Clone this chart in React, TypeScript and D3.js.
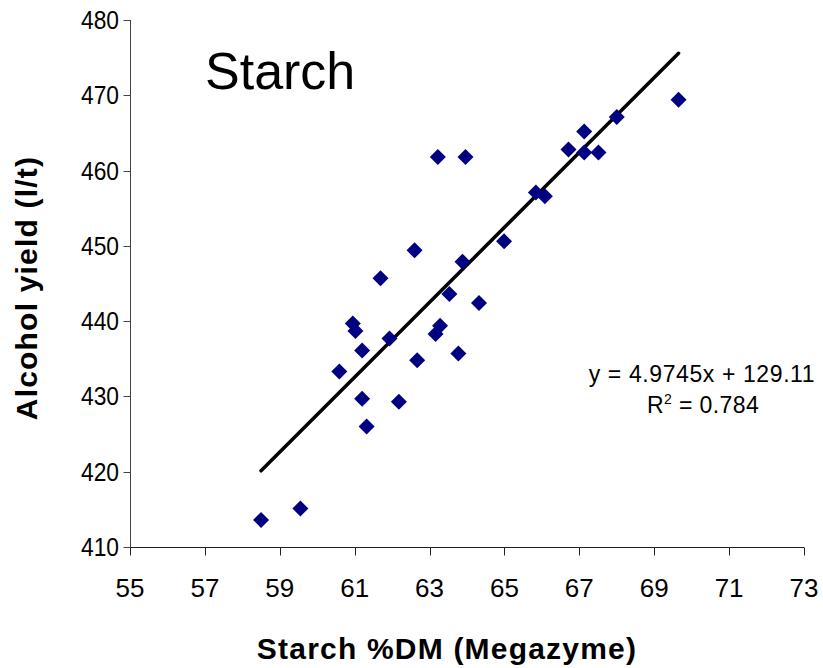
import React from 'react';
import * as d3 from 'd3';

// Starch %DM (Megazyme) vs alcohol yield (l/t)
const starchPct = [
  58.5, 59.55, 61.32, 61.2, 62.18, 60.59, 61.2, 60.95, 61.02, 61.93,
  61.69, 62.6, 62.67, 63.16, 63.28, 63.53, 63.77, 63.88, 64.32, 64.99,
  63.22, 63.96, 65.84, 66.08, 66.71, 67.13, 67.13, 67.51, 68.0, 69.65,
];
const alcoholYield = [
  413.6, 415.1, 426.0, 429.7, 429.3, 433.3, 436.1, 439.7, 438.7, 437.7,
  445.7, 449.4, 434.8, 438.3, 439.4, 443.6, 435.7, 447.9, 442.4, 450.6,
  461.8, 461.8, 457.1, 456.6, 462.8, 465.2, 462.4, 462.4, 467.1, 469.4,
];

const xTicks = [55, 57, 59, 61, 63, 65, 67, 69, 71, 73];
const yTicks = [410, 420, 430, 440, 450, 460, 470, 480];

const slope = 4.9745;
const intercept = 129.11;
const equationText = 'y = 4.9745x + 129.11';
const r2Value = '0.784';

const width = 823;
const height = 668;
const margin = { top: 20, right: 19, bottom: 121, left: 130 };
const font = 'Arial, "Liberation Sans", sans-serif';

const App = () => {
  const x = d3.scaleLinear()
    .domain([55, 73])
    .range([margin.left, width - margin.right]);
  const y = d3.scaleLinear()
    .domain([410, 480])
    .range([height - margin.bottom, margin.top]);

  const points = starchPct.map((s, i) => ({ s, a: alcoholYield[i] }));
  const [xMin, xMax] = d3.extent(starchPct) as [number, number];
  const trend = d3.line<number>()
    .x(d => x(d))
    .y(d => y(slope * d + intercept))([xMin, xMax]);

  const x0 = Math.round(x(55)) + 0.5;
  const y0 = Math.round(y(410)) + 0.5;
  const r = 8; // diamond half-diagonal

  return (
    <svg width={width} height={height}
      style={{ position: 'absolute', left: 0, top: 0, background: '#fff' }}
      fontFamily={font}>
      {/* axes */}
      <line x1={x0} x2={x0} y1={y(480)} y2={y0} stroke="#444" />
      <line x1={x0} x2={x(73)} y1={y0} y2={y0} stroke="#222" />
      {yTicks.map(t => (
        <g key={t}>
          <line x1={x0 - 7} x2={x0} y1={Math.round(y(t)) + 0.5} y2={Math.round(y(t)) + 0.5} stroke="#444" />
          <text transform={`translate(119,${y(t)}) scale(0.95,1.05)`} y={8.6} textAnchor="end" fontSize={24}>{t}</text>
        </g>
      ))}
      {xTicks.map(t => (
        <g key={t}>
          <line x1={Math.round(x(t)) + 0.5} x2={Math.round(x(t)) + 0.5} y1={y0} y2={y0 + 8} stroke="#222" />
          <text x={x(t)} y={597} textAnchor="middle" fontSize={26}>{t}</text>
        </g>
      ))}

      {/* trend line */}
      <path d={trend ?? ''} stroke="#000" strokeWidth={3.5} fill="none" strokeLinecap="round" />

      {/* points */}
      {points.map((p, i) => (
        <path key={i}
          d={`M${x(p.s)},${y(p.a) - r}L${x(p.s) + r},${y(p.a)}L${x(p.s)},${y(p.a) + r}L${x(p.s) - r},${y(p.a)}Z`}
          fill="#000080" />
      ))}

      {/* labels */}
      <text x={205} y={89} fontSize={52}>Starch</text>
      <text x={702} y={382} textAnchor="middle" fontSize={23} letterSpacing={0.6}>{equationText}</text>
      <text x={703} y={413} textAnchor="middle" fontSize={23} letterSpacing={0.4}>
        R<tspan fontSize={14} dy={-9}>2</tspan><tspan dy={9}> = {r2Value}</tspan>
      </text>
      <text x={447} y={659} textAnchor="middle" fontSize={30} fontWeight="bold" letterSpacing={1.2}>
        Starch %DM (Megazyme)
      </text>
      <text transform={`translate(37,288) rotate(-90)`} textAnchor="middle" fontSize={30}
        fontWeight="bold" letterSpacing={1.2}>
        Alcohol yield (l/t)
      </text>
    </svg>
  );
};

export default App;
